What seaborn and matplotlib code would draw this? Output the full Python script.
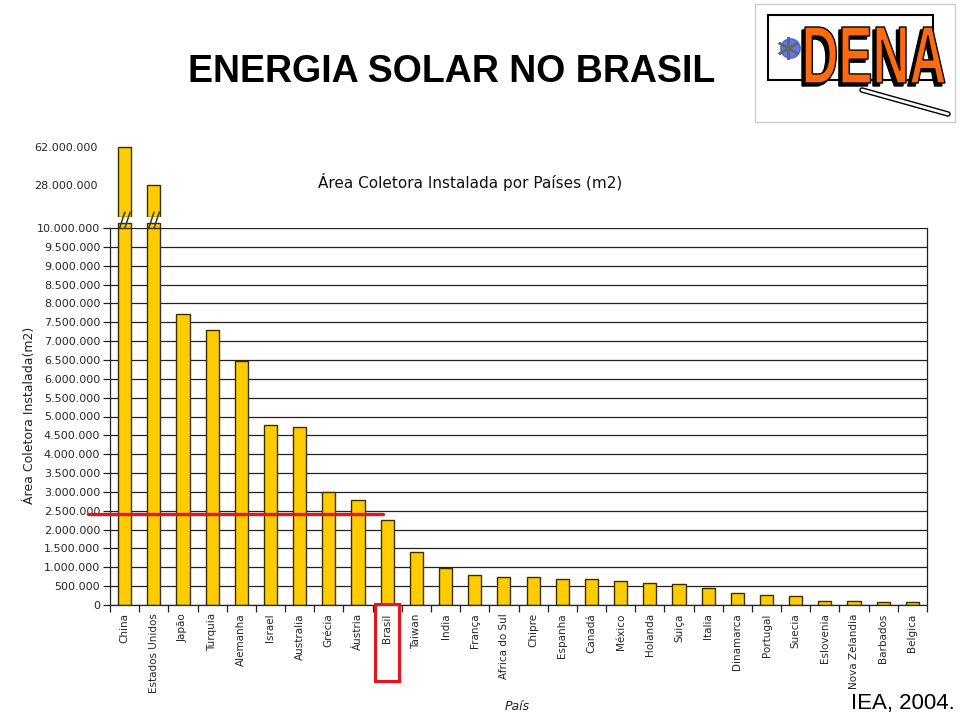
import pandas as pd
import matplotlib.pyplot as plt
from matplotlib.patches import Rectangle, PathPatch
from matplotlib.lines import Line2D
from matplotlib.textpath import TextPath
from matplotlib.font_manager import FontProperties
from matplotlib.transforms import blended_transform_factory, Affine2D
import matplotlib.ticker as ticker
import seaborn as sns

sns.set_theme(style="ticks")
plt.rcParams['font.family'] = ['DejaVu Sans']

paises = ['China', 'Estados Unidos', 'Japão', 'Turquia', 'Alemanha', 'Israel',
          'Australia', 'Grécia', 'Áustria', 'Brasil', 'Taiwan', 'India', 'França',
          'Africa do Sul', 'Chipre', 'Espanha', 'Canadá', 'México', 'Holanda',
          'Suiça', 'Italia', 'Dinamarca', 'Portugal', 'Suecia', 'Eslovenia',
          'Nova Zelandia', 'Barbados', 'Belgica']
area_m2 = [62_000_000, 28_000_000, 7_720_000, 7_290_000, 6_470_000, 4_770_000,
           4_720_000, 3_000_000, 2_790_000, 2_250_000, 1_410_000, 980_000, 800_000,
           740_000, 740_000, 690_000, 690_000, 640_000, 580_000,
           560_000, 450_000, 320_000, 270_000, 240_000, 100_000,
           100_000, 80_000, 80_000]
top_ticks = [28_000_000, 62_000_000]
nivel_brasil = 2_410_000

df = pd.DataFrame({'pais': paises, 'area': area_m2})
W, H = 960, 724
bar_color = '#FFCC00'
edge = '#3a3000'


def fmt(v, pos=None):
    return f"{v:,.0f}".replace(",", ".")


fig = plt.figure(figsize=(9.6, 7.24), dpi=100)
fig.patch.set_facecolor('white')
px = Affine2D().scale(1 / W, 1 / H) + fig.transFigure  # pixel coords, y up

# main (lower) axes: 0 .. 10.000.000
ax = fig.add_axes([110 / W, 1 - 605 / H, 817 / W, 377 / H])
sns.barplot(data=df, x='pais', y='area', order=paises, color=bar_color,
            saturation=1, edgecolor=edge, linewidth=1, width=0.45, ax=ax)
ax.set_ylim(0, 10_000_000)
ax.set_xlim(-0.5, len(paises) - 0.5)
ax.yaxis.set_major_locator(ticker.MultipleLocator(500_000))
ax.yaxis.set_major_formatter(ticker.FuncFormatter(fmt))
ax.yaxis.grid(True, color='#222222', linewidth=0.9)
ax.set_axisbelow(True)
ax.spines['top'].set_visible(False)
for s in ['left', 'bottom', 'right']:
    ax.spines[s].set_color('#222222')
    ax.spines[s].set_linewidth(0.9)
ax.tick_params(axis='y', labelsize=8, length=5, width=0.9, color='#222222', pad=2)
ax.set_xticks(range(len(paises)))
ax.set_xticklabels(paises, rotation=90, fontsize=7.5)
ax.tick_params(axis='x', which='major', length=0, pad=6)
ax.set_xticks([i + 0.5 for i in range(-1, len(paises))], minor=True)
ax.tick_params(axis='x', which='minor', length=5, width=0.9, color='#222222')
ax.set_xlabel('')
ax.set_ylabel('')

# upper axes: only broken bars (China, Estados Unidos)
ax_top = fig.add_axes([110 / W, 1 - 217 / H, 817 / W, 77 / H])
sns.barplot(data=df[df['area'] > 10_000_000], x='pais', y='area', order=paises,
            color=bar_color, saturation=1, edgecolor=edge, linewidth=1,
            width=0.45, ax=ax_top)
ax_top.set_ylim(0, 68_200_000)
ax_top.set_xlim(-0.5, len(paises) - 0.5)
ax_top.set_yticks(top_ticks)
ax_top.yaxis.set_major_formatter(ticker.FuncFormatter(fmt))
ax_top.tick_params(axis='y', labelsize=8, length=0, pad=9)
ax_top.set_xticks([])
ax_top.set_xlabel('')
ax_top.set_ylabel('')
for s in ax_top.spines.values():
    s.set_visible(False)
ax_top.patch.set_alpha(0)

# break marks
bt = blended_transform_factory(ax.transData, fig.transFigure)
for i in range(2):
    fig.add_artist(Rectangle((i - 0.225, 1 - 228 / H), 0.45, 5 / H, transform=bt,
                             facecolor=bar_color, edgecolor=edge, linewidth=1))
    for dx in (-0.08, 0.1):
        fig.add_artist(Line2D([i + dx - 0.09, i + dx + 0.09],
                              [1 - 228 / H, 1 - 212 / H], transform=bt,
                              color='#333333', linewidth=1.1))

# red highlight line and box
ax.plot([-1.25, 8.85], [nivel_brasil, nivel_brasil], color='#E8141B',
        linewidth=2.4, clip_on=False, zorder=5)
fig.add_artist(Rectangle((8.58, 1 - 681 / H), 0.82, 77 / H, transform=bt,
                         fill=False, edgecolor='#E8141B', linewidth=2.2))

# texts
fig.text(470 / W, 1 - 182 / H, 'Área Coletora Instalada por Países (m2)',
         fontsize=11, ha='center', va='center', color='#111111')
fig.text(30 / W, 1 - 415 / H, 'Área Coletora Instalada(m2)', rotation=90,
         fontsize=9, ha='center', va='center', color='#222222')
fig.text(517 / W, 1 - 706 / H, 'País', fontsize=9, style='italic',
         ha='center', va='center', color='#222222')
fig.text(452 / W, 1 - 72 / H, 'ENERGIA SOLAR NO BRASIL', fontsize=27,
         fontweight='bold', family=['Liberation Sans', 'DejaVu Sans'],
         ha='center', va='center', color='black')
fig.text(955 / W, 1 - 703 / H, 'IEA, 2004.', fontsize=16,
         family=['Liberation Sans', 'DejaVu Sans'], ha='right', va='center',
         color='black')

# logo
fig.add_artist(Rectangle((755, H - 122), 200, 118, transform=px, fill=False,
                         edgecolor='#cccccc', linewidth=1))
fig.add_artist(Rectangle((768, H - 80), 165, 65, transform=px, fill=False,
                         edgecolor='black', linewidth=1.5))
for lw, col in ((4, 'black'), (2, 'white')):
    fig.add_artist(Line2D([862, 948], [H - 90, H - 114], transform=px,
                          color=col, linewidth=lw, solid_capstyle='round'))
fig.add_artist(Line2D([790], [H - 48], transform=px, marker='o',
                      markersize=14, color='#3a55e8', alpha=0.8))
fig.add_artist(Line2D([788], [H - 48], transform=px, marker=(6, 2, 0),
                      markersize=16, color='#666666', markeredgewidth=1.8))
fp = FontProperties(family='Liberation Sans', weight='bold')
tp = TextPath((0, 0), 'DENA', size=1, prop=fp)
bb = tp.get_extents()
for off, fc in ((-3, 'black'), (0, '#FF6A10')):
    tr = (Affine2D().translate(-bb.x0, -bb.y0)
          .scale(140 / bb.width, 56 / bb.height)
          .translate(805 + off, H - 83 + off) + px)
    fig.add_artist(PathPatch(tp, transform=tr, facecolor=fc,
                             edgecolor='black', linewidth=1))

plt.savefig('out.png', dpi=100)
